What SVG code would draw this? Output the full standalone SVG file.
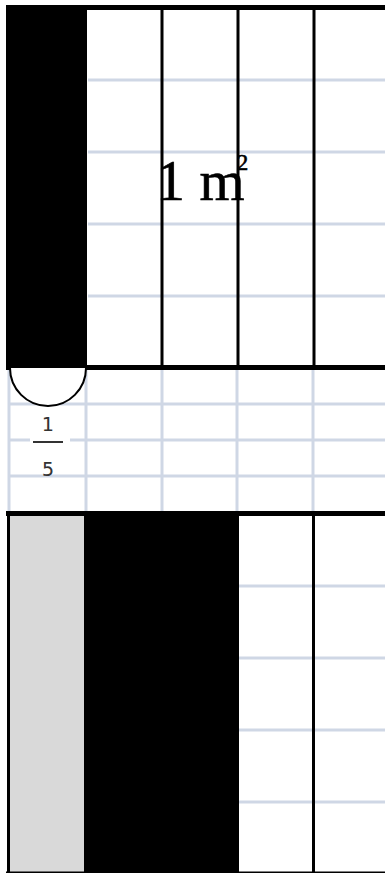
<svg xmlns="http://www.w3.org/2000/svg" width="385" height="873" viewBox="0 0 385 873">
<style>
.grid{stroke:#cfd7e5;stroke-width:3;fill:none}
.thin{stroke:#000;stroke-width:3;fill:none}
.thick{stroke:#000;stroke-width:5;fill:none}
.big{font-family:"Liberation Serif",serif;fill:#000}
.frac{font-family:"DejaVu Sans Mono",monospace;font-size:20px;fill:#333;text-anchor:middle}
</style>
<rect width="385" height="873" fill="#fff"/>
<g id="top-panel">
<g class="grid">
<line x1="88" y1="80" x2="385" y2="80"/>
<line x1="88" y1="152" x2="385" y2="152"/>
<line x1="88" y1="224" x2="385" y2="224"/>
<line x1="88" y1="296" x2="385" y2="296"/>
</g>
<rect x="6" y="5" width="81" height="362" fill="#000"/>
<g class="thin">
<line x1="162" y1="7" x2="162" y2="367"/>
<line x1="238" y1="7" x2="238" y2="367"/>
<line x1="314" y1="7" x2="314" y2="367"/>
</g>
<line class="thick" x1="6" y1="7.5" x2="385" y2="7.5"/>
<text class="big" x="156" y="200" font-size="58" stroke="#000" stroke-width="0.6">1 m<tspan dx="-8" dy="-30" font-size="23" stroke-width="0.6">2</tspan></text>
</g>
<g id="middle-panel">
<g class="grid">
<line x1="9" y1="367" x2="9" y2="513"/>
<line x1="86" y1="367" x2="86" y2="513"/>
<line x1="162" y1="367" x2="162" y2="513"/>
<line x1="237" y1="367" x2="237" y2="513"/>
<line x1="313" y1="367" x2="313" y2="513"/>
<line x1="9" y1="404" x2="385" y2="404"/>
<line x1="9" y1="440" x2="385" y2="440"/>
<line x1="9" y1="476" x2="385" y2="476"/>
</g>
<line class="thick" x1="6" y1="367.5" x2="385" y2="367.5"/>
<path d="M10,368 A38,38 0 0 0 86,368" fill="#fff" stroke="#000" stroke-width="2"/>
<g id="fraction">
<rect x="30" y="408" width="40" height="66" fill="#fff"/>
<text class="frac" x="47.5" y="431">1</text>
<line x1="33" y1="442" x2="63" y2="442" stroke="#333" stroke-width="2"/>
<text class="frac" x="48" y="476">5</text>
</g>
</g>
<g id="bottom-panel">
<rect x="10" y="514" width="76" height="358" fill="#d9d9d9"/>
<rect x="84" y="514" width="155" height="360" fill="#000"/>
<g class="grid">
<line x1="239" y1="586" x2="385" y2="586"/>
<line x1="239" y1="658" x2="385" y2="658"/>
<line x1="239" y1="730" x2="385" y2="730"/>
<line x1="239" y1="802" x2="385" y2="802"/>
</g>
<g class="thin">
<line x1="313.5" y1="514" x2="313.5" y2="873"/>
<line x1="8.5" y1="514" x2="8.5" y2="873"/>
</g>
<line class="thick" x1="6" y1="513.5" x2="385" y2="513.5"/>
<line class="thin" x1="6" y1="873" x2="385" y2="873"/>
</g>
</svg>
